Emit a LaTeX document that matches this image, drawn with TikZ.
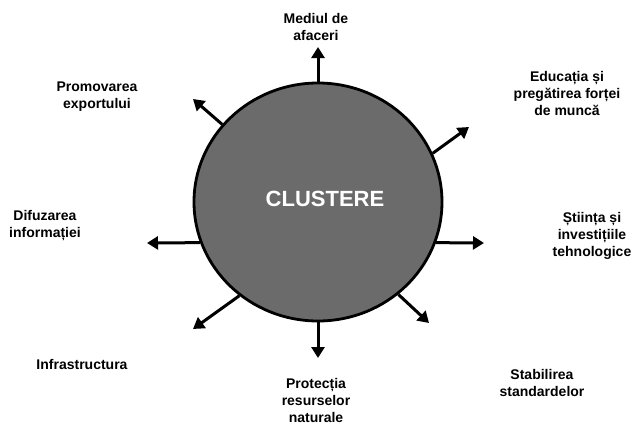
\documentclass[tikz,border=0pt]{standalone}
\usepackage{fontspec}
\setmainfont{Liberation Sans}
\usetikzlibrary{shapes.geometric,arrows.meta}

\definecolor{discgray}{HTML}{6B6B6B}
\tikzset{
  lbl/.style={font=\bfseries\fontsize{14}{17}\selectfont, align=center},
  arr/.style={line width=3pt, -{Triangle[length=11pt,width=13pt]}}
}

\begin{document}
\begin{tikzpicture}[x=1pt,y=-1pt]
\useasboundingbox (0,0) rectangle (634,426);
\node[ellipse, draw=black, line width=2.8pt, fill=discgray, minimum width=248, minimum height=238, inner sep=0pt] (cl) at (318,202) {};
\node[font=\bfseries\fontsize{22}{26}\selectfont, text=white] (ttl) at (325,199) {CLUSTERE};

\coordinate (t1) at (318,47);
\coordinate (t2) at (469,127);
\coordinate (t3) at (484,243);
\coordinate (t4) at (429,323);
\coordinate (t5) at (318,358);
\coordinate (t6) at (193,329);
\coordinate (t7) at (147,243);
\coordinate (t8) at (193,99);

\draw[arr] (cl.north) -- (t1);
\draw[arr] (cl.23) -- (t2);
\draw[arr] (cl.-19) -- (t3);
\draw[arr] (cl.-49) -- (t4);
\draw[arr] (cl.south) -- (t5);
\draw[arr] (cl.-130) -- (t6);
\draw[arr] (cl.-161) -- (t7);
\draw[arr] (cl.141) -- (t8);

\node[lbl] (mediu) at (316,27) {Mediul de\\afaceri};
\node[lbl] (educ) at (567,93) {Educația și\\pregătirea forței\\de muncă};
\node[lbl] (stiinta) at (592,236) {Știința și\\investițiile\\tehnologice};
\node[lbl] (stand) at (542,383) {Stabilirea\\standardelor};
\node[lbl] (prot) at (316,400) {Protecția\\resurselor\\naturale};
\node[lbl] (infra) at (82,364) {Infrastructura};
\node[lbl] (difuz) at (45,226) {Difuzarea\\informației};
\node[lbl] (promo) at (97,97) {Promovarea\\exportului};
\end{tikzpicture}
\end{document}
